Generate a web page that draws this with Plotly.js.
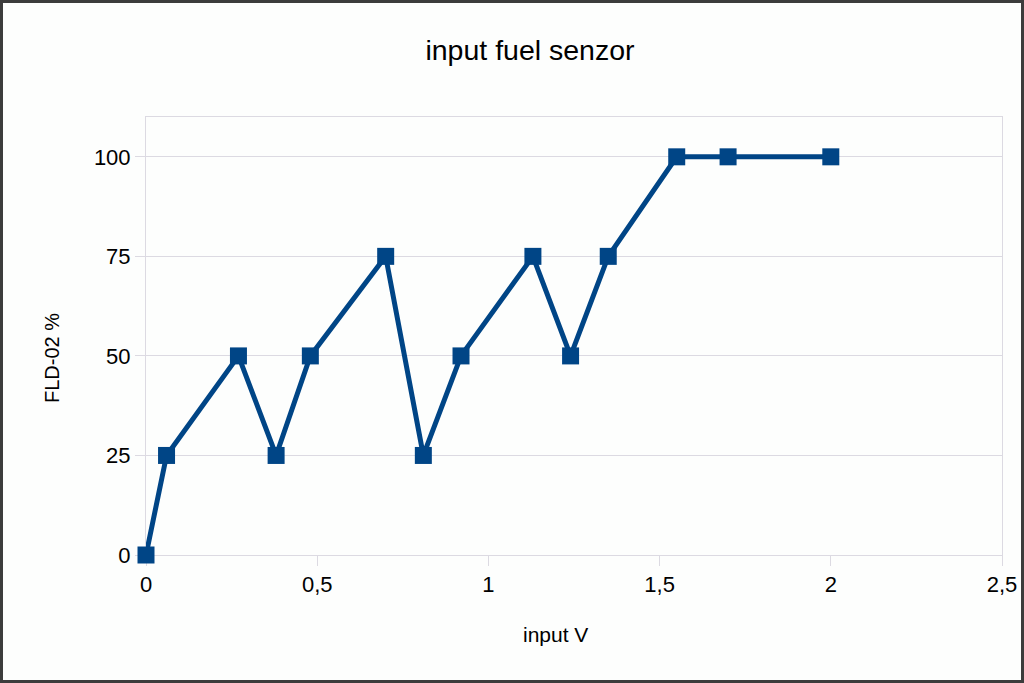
<!DOCTYPE html>
<html>
<head>
<meta charset="utf-8">
<script src="https://cdn.plot.ly/plotly-3.0.1.min.js"></script>
<style>
  html, body { margin: 0; padding: 0; background: #ffffff; }
  #frame { width: 1024px; height: 683px; box-sizing: border-box; border: 3px solid #3c3c3c; background: #fdfefd; }
  #chart { width: 1018px; height: 677px; }
</style>
</head>
<body>
<div id="frame"><div id="chart"></div></div>
<script>
const inputV = [0, 0.06, 0.27, 0.38, 0.48, 0.7, 0.81, 0.92, 1.13, 1.24, 1.35, 1.55, 1.7, 2.0];
const fld02 = [0, 25, 50, 25, 50, 75, 25, 50, 75, 50, 75, 100, 100, 100];
const xTicks = [0, 0.5, 1, 1.5, 2, 2.5];
const xTickLabels = ['0', '0,5', '1', '1,5', '2', '2,5'];
const yTicks = [0, 25, 50, 75, 100];
const yTickLabels = ['0', '25', '50', '75', '100'];

const FONT = 'Liberation Sans, Arial, sans-serif';
const GRID = '#dcdae2';

const trace = {
  x: inputV,
  y: fld02,
  type: 'scatter',
  mode: 'lines+markers',
  line: { color: '#004586', width: 5 },
  marker: { symbol: 'square', size: 17, color: '#004586' },
  cliponaxis: false,
  hoverinfo: 'x+y'
};

const layout = {
  width: 1018,
  height: 677,
  margin: { l: 143, r: 19, t: 114, b: 125 },
  paper_bgcolor: '#fdfefd',
  plot_bgcolor: '#fdfefd',
  showlegend: false,
  font: { family: FONT, color: '#000000' },
  title: {
    text: 'input fuel senzor',
    font: { family: FONT, size: 28.5, color: '#000000' },
    xref: 'container', x: 527 / 1018, xanchor: 'center',
    yref: 'container', y: 1 - 47 / 677, yanchor: 'middle'
  },
  xaxis: {
    range: [0, 2.5],
    tickvals: xTicks,
    ticktext: xTickLabels,
    showgrid: false,
    zeroline: false,
    showline: true, mirror: true, linecolor: GRID, linewidth: 1,
    ticks: 'outside', ticklen: 10, tickcolor: GRID, tickwidth: 1,
    tickfont: { family: FONT, size: 22, color: '#000000' },
    layer: 'below traces',
    fixedrange: true
  },
  yaxis: {
    range: [0, 110],
    tickvals: yTicks,
    ticktext: yTickLabels,
    showgrid: true, gridcolor: GRID, gridwidth: 1,
    zeroline: false,
    showline: true, mirror: true, linecolor: GRID, linewidth: 1,
    ticks: 'outside', ticklen: 10, tickcolor: GRID, tickwidth: 1,
    tickfont: { family: FONT, size: 22, color: '#000000' },
    layer: 'below traces',
    fixedrange: true
  },
  annotations: [
    {
      text: 'input V', xref: 'paper', yref: 'paper', x: 0.5, y: 0,
      xanchor: 'center', yanchor: 'middle', xshift: -19, yshift: -79, showarrow: false,
      font: { family: FONT, size: 21, color: '#000000' }
    },
    {
      text: 'FLD-02 %', xref: 'paper', yref: 'paper', x: 0, y: 0.5,
      xanchor: 'center', yanchor: 'middle', xshift: -94, yshift: -22,
      textangle: -90, showarrow: false,
      font: { family: FONT, size: 20, color: '#000000' }
    }
  ]
};

Plotly.newPlot('chart', [trace], layout, { displayModeBar: false, staticPlot: true });
</script>
</body>
</html>
